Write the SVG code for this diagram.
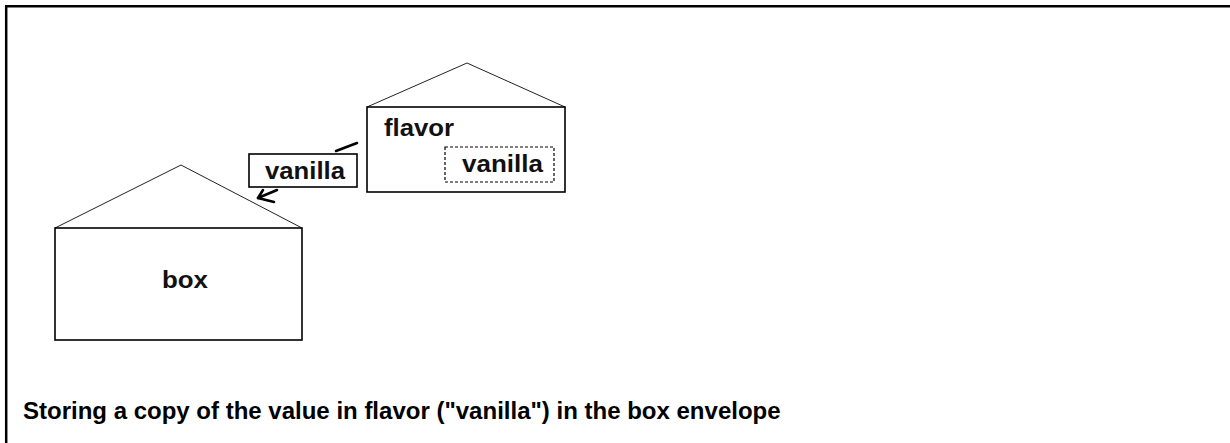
<svg xmlns="http://www.w3.org/2000/svg" width="1230" height="443" viewBox="0 0 1230 443">
<style>
.frame{fill:none;stroke:#000;stroke-width:2.5}
.wall{fill:#fff;stroke:#000;stroke-width:1.6}
.roof{fill:none;stroke:#222;stroke-width:1}
.lbl{font-family:"Liberation Sans",Arial,sans-serif;font-size:23px;font-weight:bold;fill:#111}
.dash{fill:#fff;stroke:#000;stroke-width:1.2;stroke-dasharray:3 2}
.conn{fill:none;stroke:#000;stroke-width:2.6;stroke-linecap:round;stroke-linejoin:round}
.cap{font-family:"Liberation Sans",Arial,sans-serif;font-size:24px;font-weight:bold;fill:#000}
</style>
<rect x="0" y="0" width="1230" height="443" fill="#fff"/>
<path class="frame" d="M6.2 443 V6.2 H1230"/>
<g id="box">
<polyline class="roof" points="55,228 181,165 302,228"/>
<rect class="wall" x="55" y="228" width="247" height="112"/>
<text class="lbl" x="162" y="288" textLength="46" lengthAdjust="spacingAndGlyphs">box</text>
</g>
<g id="flavor">
<polyline class="roof" points="367,107 467,63 565,107"/>
<rect class="wall" x="367" y="107" width="198" height="85"/>
<text class="lbl" x="384" y="136" textLength="70" lengthAdjust="spacingAndGlyphs">flavor</text>
<rect class="dash" x="445" y="147" width="109" height="35"/>
<text class="lbl" x="462" y="172" textLength="81" lengthAdjust="spacingAndGlyphs">vanilla</text>
</g>
<g id="connectors">
<line class="conn" x1="336" y1="151" x2="357" y2="143"/>
<polyline class="conn" points="277,190 258,198"/>
<polyline class="conn" points="263,190 258,198 274,202"/>
</g>
<g id="value-label">
<rect class="wall" x="249" y="154" width="108" height="33"/>
<text class="lbl" x="265" y="179" textLength="80" lengthAdjust="spacingAndGlyphs">vanilla</text>
</g>
<text class="cap" x="23" y="419">Storing a copy of the value in flavor ("vanilla") in the box envelope</text>
</svg>
